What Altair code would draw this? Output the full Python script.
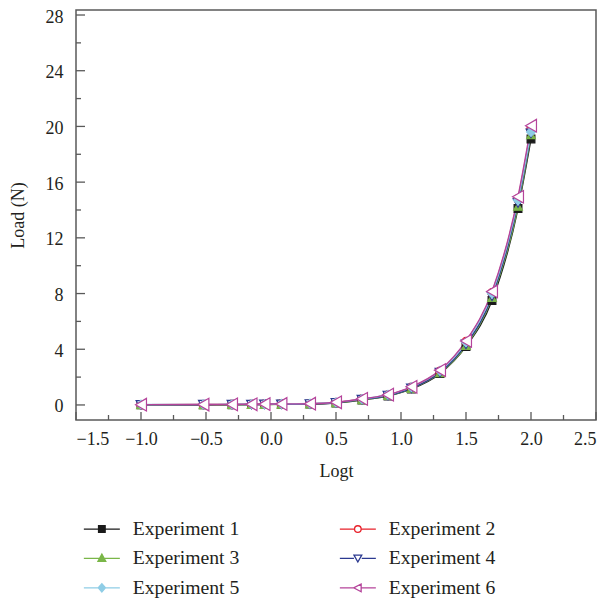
import altair as alt
import pandas as pd

exps = ["Experiment 1", "Experiment 2", "Experiment 3",
        "Experiment 4", "Experiment 5", "Experiment 6"]
logt = [-1.0, -0.52, -0.3, -0.15, -0.05, 0.08, 0.3, 0.5, 0.7, 0.9,
        1.08, 1.3, 1.5, 1.7, 1.9, 2.0]
load1 = [0.01, 0.02, 0.02, 0.03, 0.03, 0.05, 0.06, 0.14, 0.36, 0.64,
         1.15, 2.25, 4.2, 7.5, 14.1, 19.1]
load2 = [0.02, 0.03, 0.04, 0.05, 0.06, 0.07, 0.09, 0.18, 0.42, 0.72,
         1.27, 2.42, 4.55, 8.05, 14.8, 19.8]
load3 = [0.0, 0.01, 0.02, 0.02, 0.03, 0.04, 0.06, 0.15, 0.37, 0.66,
         1.18, 2.3, 4.25, 7.7, 14.25, 19.4]
load4 = [0.01, 0.02, 0.03, 0.03, 0.04, 0.05, 0.07, 0.16, 0.39, 0.68,
         1.2, 2.33, 4.35, 7.8, 14.5, 19.5]
load5 = [0.03, 0.04, 0.05, 0.06, 0.06, 0.08, 0.1, 0.19, 0.43, 0.73,
         1.28, 2.45, 4.5, 8.0, 14.7, 19.6]
load6 = [0.02, 0.03, 0.04, 0.05, 0.06, 0.07, 0.09, 0.19, 0.44, 0.74,
         1.3, 2.5, 4.6, 8.15, 14.95, 20.05]
loads = [load1, load2, load3, load4, load5, load6]

colors = ["#1a1a1a", "#e8202a", "#7ab648", "#2b3990", "#8fcde6", "#b5449b"]
fills = ["#1a1a1a", "white", "#7ab648", "white", "#8fcde6", "white"]
shapes = ["square", "circle", "triangle-up", "triangle-down", "diamond", "triangle-left"]
sizes = [60, 70, 75, 95, 80, 160]
legend_paths = [
    "M-3,0H3M-0.55,-0.55H0.55V0.55H-0.55Z",
    "M-3,0H-0.55M0.55,0H3M-0.55,0A0.55,0.55 0 1,0 0.55,0A0.55,0.55 0 1,0 -0.55,0Z",
    "M-3,0H3M0,-0.7L0.65,0.5H-0.65Z",
    "M-3,0H-0.65M0.65,0H3M0,0.6L0.65,-0.55H-0.65Z",
    "M-3,0H3M0,-0.7L0.6,0L0,0.7L-0.6,0Z",
    "M-3,0H-0.7M0.55,0H3M-0.7,0L0.55,-0.65V0.65Z",
]

x_major = [-1.5, -1.0, -0.5, 0.0, 0.5, 1.0, 1.5, 2.0, 2.5]
x_minor = [-1.25, -0.75, -0.25, 0.25, 0.75, 1.25, 1.75, 2.25]
y_major = [0, 4, 8, 12, 16, 20, 24, 28]
y_minor = [2, 6, 10, 14, 18, 22, 26]

rows = []
for e, ld in zip(exps, loads):
    for xv, yv in zip(logt, ld):
        rows.append({"exp": e, "logt": xv, "load": yv})
df = pd.DataFrame(rows)

W, H = 520, 410
FONT = "Liberation Serif"
FRAME = "#595959"
TXT = "#231f20"

xs = alt.Scale(domain=[-1.5, 2.5], nice=False, zero=False)
ys = alt.Scale(domain=[-1.08, 28.36], nice=False, zero=False)
stroke_scale = alt.Scale(domain=exps, range=colors)
fill_scale = alt.Scale(domain=exps, range=fills)
shape_scale = alt.Scale(domain=exps, range=legend_paths)

X = alt.X("logt:Q", scale=xs, title="Logt",
          axis=alt.Axis(values=x_major, format=".1f", grid=False, domain=False,
                        ticks=False, tickSize=0, labelPadding=10, titlePadding=14))
Y = alt.Y("load:Q", scale=ys, title="Load (N)",
          axis=alt.Axis(values=y_major, format="d", grid=False, domain=False,
                        ticks=False, tickSize=0, labelPadding=13, titlePadding=18,
                        labelOffset=2))
S = alt.Stroke("exp:N", scale=stroke_scale)
F = alt.Fill("exp:N", scale=fill_scale)

legend_layer = alt.Chart(df).mark_point(opacity=0, strokeWidth=1.3).encode(
    x=X, y=Y, stroke=S, fill=F,
    shape=alt.Shape("exp:N", scale=shape_scale, legend=alt.Legend(
        orient="none", legendX=16, legendY=509, columns=2, direction="horizontal",
        title=None, symbolSize=144, symbolStrokeWidth=1.3, symbolFillColor="white",
        symbolOpacity=1, labelFont=FONT, labelFontSize=19.7, labelColor=TXT,
        labelOffset=21, columnPadding=97, rowPadding=8.5, padding=0)))

tick_layers = []
for vals, ln, ch in [(x_major, 8, "x"), (x_minor, 5, "x"), (y_major, 9, "y"), (y_minor, 5, "y")]:
    if ch == "x":
        tdf = pd.DataFrame({"logt": vals})
        tick_layers.append(alt.Chart(tdf).mark_rule(color=FRAME, strokeWidth=1.3).encode(
            x=alt.X("logt:Q", scale=xs),
            y=alt.value(H), y2=alt.value(H - ln)))
    else:
        tdf = pd.DataFrame({"load": vals})
        tick_layers.append(alt.Chart(tdf).mark_rule(color=FRAME, strokeWidth=1.3).encode(
            y=alt.Y("load:Q", scale=ys),
            x=alt.value(0), x2=alt.value(ln)))

lines = alt.Chart(df).mark_line(interpolate="monotone", strokeWidth=1.4).encode(
    x=X, y=Y, stroke=S)

markers = []
for i, e in enumerate(exps):
    markers.append(alt.Chart(df[df["exp"] == e]).mark_point(
        shape=shapes[i], size=sizes[i], strokeWidth=1.2, opacity=1).encode(
        x=X, y=Y, stroke=S, fill=F))

chart = alt.layer(legend_layer, lines, *markers, *tick_layers).properties(
    width=W, height=H,
    autosize=alt.AutoSizeParams(type="none"),
    padding={"left": 68, "top": 2, "right": 4, "bottom": 178},
).configure_view(stroke=FRAME, strokeWidth=1.5).configure_axis(
    labelFont=FONT, labelFontSize=18, labelColor=TXT,
    titleFont=FONT, titleFontSize=18, titleColor=TXT, titleFontWeight="normal",
)

chart.save("out.html", embed_options={"renderer": "svg", "actions": False})
